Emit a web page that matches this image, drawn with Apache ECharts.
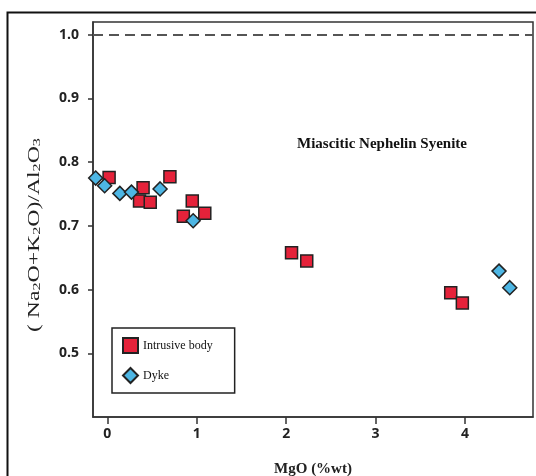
<!DOCTYPE html>
<html lang="en">
<head>
  <meta charset="UTF-8">
  <title>MgO vs (Na2O+K2O)/Al2O3</title>
  <script src="https://cdn.jsdelivr.net/npm/echarts@6.0.0/dist/echarts.min.js"></script>
  <style>
    html, body { margin: 0; padding: 0; background: #fff; }
  </style>
</head>
<body>
  <div id="main" style="width:536px;height:476px;"></div>

  <script type="text/javascript">
  // values: [MgO, (Na2O+K2O)/Al2O3]
  var intrusiveX = [0.02, 0.40, 0.36, 0.48, 0.70, 0.95, 0.85, 1.09, 2.06, 2.23, 3.84, 3.97];
  var intrusiveY = [0.776, 0.760, 0.739, 0.737, 0.777, 0.739, 0.715, 0.720, 0.658, 0.645, 0.595, 0.579];
  var dykeX = [-0.13, -0.03, 0.14, 0.27, 0.59, 0.96, 4.38, 4.50];
  var dykeY = [0.775, 0.763, 0.751, 0.753, 0.758, 0.708, 0.629, 0.603];
  var xTicks = [0, 1, 2, 3, 4];
  var yTicks = [0.5, 0.6, 0.7, 0.8, 0.9, 1.0];
  var limitLine = 1.0;

  function pairs(xs, ys) {
    return xs.map(function (x, i) { return [x, ys[i]]; });
  }

  var myChart = echarts.init(document.getElementById('main'));

  var tickFont = { fontFamily: 'Open Sans', fontWeight: 'bold', fontSize: 14, color: '#222' };

  var option = {
    animation: false,
    backgroundColor: '#fff',
    grid: {
      left: 93, top: 22, right: 3, bottom: 59,
      outerBoundsMode: 'none',
      show: true, borderColor: '#333', borderWidth: 1.5
    },
    legend: {
      orient: 'vertical',
      left: 112, top: 328,
      padding: [9, 22, 9, 10],
      itemGap: 13,
      itemWidth: 15, itemHeight: 15,
      backgroundColor: '#fff',
      borderColor: '#222', borderWidth: 1.5,
      textStyle: { fontFamily: 'Liberation Serif', fontSize: 12, color: '#111' },
      data: ['Intrusive body', 'Dyke']
    },
    xAxis: {
      type: 'value',
      min: -0.16, max: 4.76,
      name: 'MgO (%wt)',
      nameLocation: 'middle',
      nameGap: 45,
      nameTextStyle: { fontFamily: 'Liberation Serif', fontWeight: 'bold', fontSize: 15, color: '#222' },
      splitLine: { show: false },
      axisLine: { onZero: false, lineStyle: { color: '#333', width: 1.5 } },
      axisTick: { customValues: xTicks, length: 7, lineStyle: { color: '#333', width: 1.5 } },
      axisLabel: Object.assign({ customValues: xTicks, margin: 10 }, tickFont)
    },
    yAxis: {
      type: 'value',
      min: 0.4, max: 1.02,
      splitLine: { show: false },
      axisLine: { onZero: false, lineStyle: { color: '#333', width: 1.5 } },
      axisTick: { customValues: yTicks, length: 5, lineStyle: { color: '#333', width: 1.5 } },
      axisLabel: Object.assign({
        customValues: yTicks, margin: 14,
        formatter: function (v) { return v.toFixed(1); }
      }, tickFont)
    },
    graphic: [
      {
        type: 'rect', left: 5, top: 10, z: -1, silent: true,
        shape: { width: 600, height: 600 },
        style: { fill: 'none', stroke: '#111', lineWidth: 2 }
      },
      {
        type: 'text', left: 297, top: 137,
        style: {
          text: 'Miascitic Nephelin Syenite',
          font: 'bold 15px "Liberation Serif"', fill: '#111'
        }
      },
      {
        type: 'text', x: 33, y: 235, rotation: Math.PI / 2, scaleX: 1.48,
        style: {
          text: '{a|( Na}{s|2}{a|O+K}{s|2}{a|O)/Al}{s|2}{a|O}{s|3}',
          align: 'center', verticalAlign: 'middle',
          rich: {
            a: { font: '16px "Liberation Serif"', fill: '#222', verticalAlign: 'bottom', lineHeight: 19 },
            s: { font: '11px "Liberation Serif"', fill: '#222', verticalAlign: 'bottom', lineHeight: 15 }
          }
        }
      }
    ],
    series: [
      {
        name: 'Intrusive body',
        type: 'scatter',
        symbol: 'rect',
        symbolSize: 12,
        itemStyle: { color: '#e5223a', borderColor: '#222', borderWidth: 1.5, opacity: 1 },
        data: pairs(intrusiveX, intrusiveY),
        markLine: {
          silent: true,
          symbol: 'none',
          label: { show: false },
          lineStyle: { color: '#555', width: 2, type: [10, 6] },
          data: [{ yAxis: limitLine }]
        }
      },
      {
        name: 'Dyke',
        type: 'scatter',
        symbol: 'diamond',
        symbolSize: 14,
        itemStyle: { color: '#4db6e4', borderColor: '#222', borderWidth: 1.5, opacity: 1 },
        data: pairs(dykeX, dykeY)
      }
    ]
  };

  myChart.setOption(option);
  </script>
</body>
</html>
